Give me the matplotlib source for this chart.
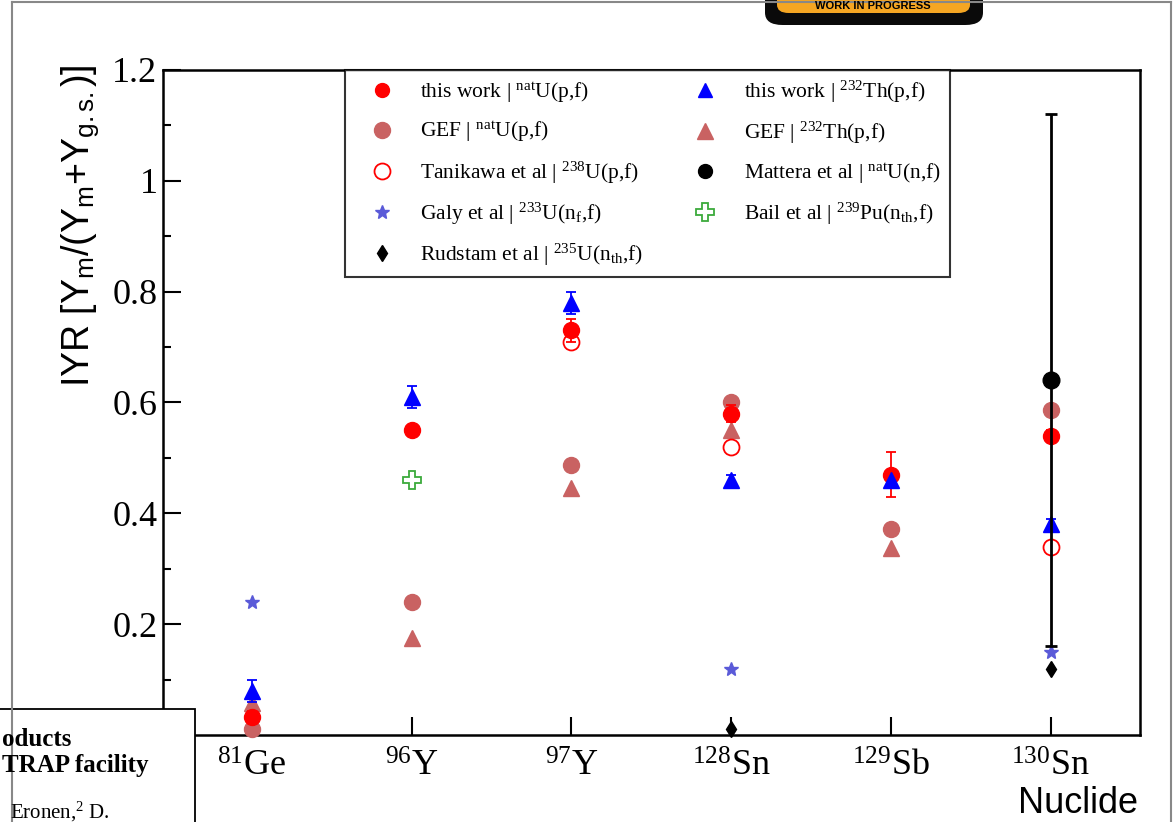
import numpy as np
import matplotlib
matplotlib.use("Agg")
import matplotlib.pyplot as plt
from matplotlib.patches import Rectangle, FancyBboxPatch
from matplotlib.lines import Line2D

plt.rcParams['font.family'] = 'Liberation Serif'
plt.rcParams['mathtext.fontset'] = 'custom'
plt.rcParams['mathtext.rm'] = 'Liberation Serif'
plt.rcParams['mathtext.it'] = 'Liberation Serif:italic'

# nuclides on the x axis
nuclides = [r'$^{\mathregular{81}}$Ge', r'$^{\mathregular{96}}$Y', r'$^{\mathregular{97}}$Y',
            r'$^{\mathregular{128}}$Sn', r'$^{\mathregular{129}}$Sb', r'$^{\mathregular{130}}$Sn']
pos = np.arange(1, 7)

# this work natU(p,f)
tw_u = [0.033, 0.55, 0.73, 0.58, 0.47, 0.54]
tw_u_err = [0.01, 0.01, 0.02, 0.015, 0.04, 0.01]
# this work 232Th(p,f)
tw_th = [0.08, 0.61, 0.78, 0.46, 0.46, 0.38]
tw_th_err = [0.02, 0.02, 0.02, 0.01, 0.01, 0.01]
# GEF
gef_u = [0.011, 0.24, 0.488, 0.60, 0.372, 0.586]
gef_th = [0.058, 0.175, 0.445, 0.55, 0.338, None]
# literature
tanikawa_x = [3, 4, 6]
tanikawa = [0.71, 0.52, 0.34]
galy_x = [1, 4, 6]
galy = [0.24, 0.12, 0.15]
rudstam_x = [4, 6]
rudstam = [0.01, 0.12]
bail_x = [2]
bail = [0.46]
mattera_x = [6]
mattera = [0.64]
mattera_err = [0.48]

red = '#ff0000'
gef_col = '#c96262'
blue = '#0000ff'
star_col = '#5a5ad8'
green = '#3caa3c'

W, H = 1173, 822
fig = plt.figure(figsize=(W / 100, H / 100), dpi=100)
ax = fig.add_axes([163 / W, 1 - 735 / H, 977 / W, 665 / H])

gx = [p for p, v in zip(pos, gef_th) if v is not None]
gv = [v for v in gef_th if v is not None]

h_gefu, = ax.plot(pos, gef_u, 'o', color=gef_col, ms=11.5, ls='none', clip_on=False, zorder=3)
h_gefth, = ax.plot(gx, gv, '^', color=gef_col, ms=11.5, ls='none', clip_on=False, zorder=3)
h_tan, = ax.plot(tanikawa_x, tanikawa, 'o', mfc='white', mec=red, mew=1.3, ms=11.5, ls='none', zorder=4)
ax.errorbar(pos, tw_u, yerr=tw_u_err, fmt='o', color=red, ms=11.5, capsize=3.5, elinewidth=1.3,
            capthick=1.3, clip_on=False, zorder=5)
h_twu = Line2D([], [], marker='o', color=red, ls='none', ms=10)
ax.errorbar(pos, tw_th, yerr=tw_th_err, fmt='^', color=blue, ms=11.5, capsize=3.5, elinewidth=1.3,
            capthick=1.3, zorder=5)
h_twth = Line2D([], [], marker='^', color=blue, ls='none', ms=10)
h_galy, = ax.plot(galy_x, galy, '*', color=star_col, ms=10, ls='none', zorder=4)
h_rud, = ax.plot(rudstam_x, rudstam, 'd', color='black', ms=8, ls='none', clip_on=False, zorder=6)
h_bail, = ax.plot(bail_x, bail, 'P', mfc='white', mec=green, mew=1.3, ms=13, ls='none', zorder=4)
ax.errorbar(mattera_x, mattera, yerr=mattera_err, fmt='o', color='black', ms=12, capsize=4,
            elinewidth=2, capthick=2, zorder=7)
h_matt = Line2D([], [], marker='o', color='black', ls='none', ms=10)

ax.set_xlim(0.443, 6.56)
ax.set_ylim(0, 1.2)
ax.set_xticks(pos)
ax.set_xticklabels(nuclides, fontsize=26)
ax.set_yticks([0.2, 0.4, 0.6, 0.8, 1.0, 1.2])
ax.set_yticklabels(['0.2', '0.4', '0.6', '0.8', '1', '1.2'], fontsize=26)
ax.set_yticks(np.arange(0.1, 1.2, 0.2), minor=True)
ax.tick_params(axis='both', which='major', direction='in', length=13, width=1.5, pad=4)
ax.tick_params(axis='y', which='minor', direction='in', length=6, width=1.5)
ax.tick_params(axis='x', pad=11)
for s in ax.spines.values():
    s.set_linewidth(1.8)

handles = [h_twu, h_gefu, h_tan, h_galy, h_rud, h_twth, h_gefth, h_matt, h_bail]
labels = [r'this work | $^{\mathregular{nat}}$U(p,f)',
          r'GEF | $^{\mathregular{nat}}$U(p,f)',
          r'Tanikawa et al | $^{\mathregular{238}}$U(p,f)',
          r'Galy et al | $^{\mathregular{233}}$U(n$_{\mathregular{f}}$,f)',
          r'Rudstam et al | $^{\mathregular{235}}$U(n$_{\mathregular{th}}$,f)',
          r'this work | $^{\mathregular{232}}$Th(p,f)',
          r'GEF | $^{\mathregular{232}}$Th(p,f)',
          r'Mattera et al | $^{\mathregular{nat}}$U(n,f)',
          r'Bail et al | $^{\mathregular{239}}$Pu(n$_{\mathregular{th}}$,f)']
leg = ax.legend(handles, labels, ncol=2, loc='upper left', bbox_to_anchor=((345 - 163) / 977, 1.0),
                fontsize=15.5, frameon=True, fancybox=False, edgecolor='black',
                borderaxespad=0, labelspacing=0.7, handletextpad=0.5, columnspacing=1.58,
                borderpad=0.4, handlelength=2.6)
leg.get_frame().set_linewidth(1.5)

# axis titles
fig.text(80 / W, 1 - 226 / H,
         r'IYR [Y$_{\mathregular{m}}$/(Y$_{\mathregular{m}}$+Y$_{\mathregular{g.s.}}$)]',
         rotation=90, ha='center', va='center', fontsize=27, family='Liberation Sans')
fig.text(1138 / W, 1 - 803 / H, 'Nuclide', ha='right', va='center', fontsize=26, family='Liberation Sans')

# page frame around the plot
fig.add_artist(Line2D([12 / W, 12 / W], [0, 1 - 2 / H], color='#888888', lw=1.5))
fig.add_artist(Line2D([12 / W, 1171 / W], [1 - 2 / H, 1 - 2 / H], color='#888888', lw=1.5))
fig.add_artist(Line2D([1171 / W, 1171 / W], [0, 1 - 2 / H], color='#888888', lw=1.5))

# work in progress badge
fig.add_artist(FancyBboxPatch((765 / W, 1 - 25 / H), 218 / W, 40 / H,
                              boxstyle='round,pad=0,rounding_size=0.015', fc='#0a0a0a', ec='none'))
fig.add_artist(FancyBboxPatch((777 / W, 1 - 13 / H), 193 / W, 30 / H,
                              boxstyle='round,pad=0,rounding_size=0.01', fc='#f5a623', ec='none'))
fig.text(873 / W, 1 - 6 / H, 'WORK IN PROGRESS', ha='center', va='center', fontsize=8,
         fontweight='bold', family='Liberation Sans', color='black')

# pasted paper snippet at lower left
fig.add_artist(Rectangle((-5 / W, -5 / H), 200 / W, 118 / H, fc='white', ec='black', lw=1.3))
fig.text(2 / W, 1 - 739 / H, 'oducts', ha='left', va='center', fontsize=18, fontweight='bold')
fig.text(2 / W, 1 - 765 / H, 'TRAP facility', ha='left', va='center', fontsize=18, fontweight='bold')
fig.text(10 / W, 1 - 812 / H, r'Eronen,$^{\mathregular{2}}$ D.', ha='left', va='center', fontsize=15)

fig.savefig('out.png', dpi=100)
